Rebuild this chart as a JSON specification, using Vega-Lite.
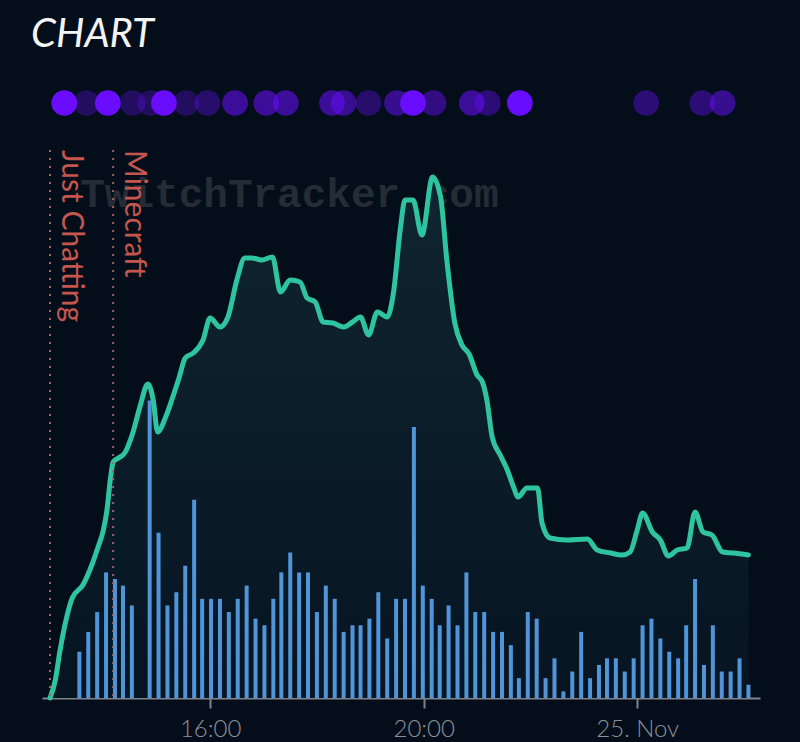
{
  "$schema": "https://vega.github.io/schema/vega-lite/v6.json",
  "width": 718,
  "height": 595,
  "autosize": {"type": "none"},
  "padding": {"left": 42, "top": 103, "right": 40, "bottom": 44},
  "background": "#040e1b",
  "title": {"text": "CHART", "anchor": "start", "frame": "group", "font": "Lato", "fontSize": 40, "fontStyle": "italic", "fontWeight": "normal", "color": "#f4f4f4", "baseline": "alphabetic", "offset": 3, "dx": -11},
  "config": {
    "view": {"stroke": null},
    "font": "Lato",
    "axis": {"grid": false, "title": null}
  },
  "datasets": {
    "viewers": [
      {"time": "2023-11-24T13:00:00Z", "viewers": 0},
      {"time": "2023-11-24T13:06:00Z", "viewers": 36},
      {"time": "2023-11-24T13:11:00Z", "viewers": 92},
      {"time": "2023-11-24T13:18:00Z", "viewers": 156},
      {"time": "2023-11-24T13:25:00Z", "viewers": 200},
      {"time": "2023-11-24T13:37:00Z", "viewers": 226},
      {"time": "2023-11-24T13:47:00Z", "viewers": 266},
      {"time": "2023-11-24T13:54:00Z", "viewers": 302},
      {"time": "2023-11-24T14:00:00Z", "viewers": 336},
      {"time": "2023-11-24T14:04:00Z", "viewers": 376},
      {"time": "2023-11-24T14:08:00Z", "viewers": 440},
      {"time": "2023-11-24T14:11:00Z", "viewers": 472},
      {"time": "2023-11-24T14:17:00Z", "viewers": 480},
      {"time": "2023-11-24T14:24:00Z", "viewers": 490},
      {"time": "2023-11-24T14:33:00Z", "viewers": 530},
      {"time": "2023-11-24T14:41:00Z", "viewers": 582},
      {"time": "2023-11-24T14:50:00Z", "viewers": 628},
      {"time": "2023-11-24T14:56:00Z", "viewers": 596},
      {"time": "2023-11-24T15:01:00Z", "viewers": 532},
      {"time": "2023-11-24T15:10:00Z", "viewers": 562},
      {"time": "2023-11-24T15:18:00Z", "viewers": 602},
      {"time": "2023-11-24T15:25:00Z", "viewers": 640},
      {"time": "2023-11-24T15:32:00Z", "viewers": 680},
      {"time": "2023-11-24T15:41:00Z", "viewers": 690},
      {"time": "2023-11-24T15:52:00Z", "viewers": 716},
      {"time": "2023-11-24T16:00:00Z", "viewers": 760},
      {"time": "2023-11-24T16:11:00Z", "viewers": 742},
      {"time": "2023-11-24T16:20:00Z", "viewers": 762},
      {"time": "2023-11-24T16:30:00Z", "viewers": 836},
      {"time": "2023-11-24T16:39:00Z", "viewers": 880},
      {"time": "2023-11-24T16:47:00Z", "viewers": 880},
      {"time": "2023-11-24T16:58:00Z", "viewers": 876},
      {"time": "2023-11-24T17:10:00Z", "viewers": 882},
      {"time": "2023-11-24T17:19:00Z", "viewers": 812},
      {"time": "2023-11-24T17:30:00Z", "viewers": 836},
      {"time": "2023-11-24T17:41:00Z", "viewers": 832},
      {"time": "2023-11-24T17:49:00Z", "viewers": 800},
      {"time": "2023-11-24T17:58:00Z", "viewers": 792},
      {"time": "2023-11-24T18:07:00Z", "viewers": 752},
      {"time": "2023-11-24T18:18:00Z", "viewers": 750},
      {"time": "2023-11-24T18:30:00Z", "viewers": 742},
      {"time": "2023-11-24T18:40:00Z", "viewers": 752},
      {"time": "2023-11-24T18:49:00Z", "viewers": 762},
      {"time": "2023-11-24T18:58:00Z", "viewers": 726},
      {"time": "2023-11-24T19:08:00Z", "viewers": 772},
      {"time": "2023-11-24T19:19:00Z", "viewers": 762},
      {"time": "2023-11-24T19:26:00Z", "viewers": 810},
      {"time": "2023-11-24T19:34:00Z", "viewers": 942},
      {"time": "2023-11-24T19:39:00Z", "viewers": 996},
      {"time": "2023-11-24T19:48:00Z", "viewers": 996},
      {"time": "2023-11-24T19:58:00Z", "viewers": 926},
      {"time": "2023-11-24T20:10:00Z", "viewers": 1042},
      {"time": "2023-11-24T20:19:00Z", "viewers": 1002},
      {"time": "2023-11-24T20:26:00Z", "viewers": 876},
      {"time": "2023-11-24T20:35:00Z", "viewers": 750},
      {"time": "2023-11-24T20:43:00Z", "viewers": 706},
      {"time": "2023-11-24T20:51:00Z", "viewers": 688},
      {"time": "2023-11-24T21:00:00Z", "viewers": 646},
      {"time": "2023-11-24T21:06:00Z", "viewers": 632},
      {"time": "2023-11-24T21:11:00Z", "viewers": 596},
      {"time": "2023-11-24T21:17:00Z", "viewers": 522},
      {"time": "2023-11-24T21:26:00Z", "viewers": 486},
      {"time": "2023-11-24T21:34:00Z", "viewers": 456},
      {"time": "2023-11-24T21:41:00Z", "viewers": 422},
      {"time": "2023-11-24T21:46:00Z", "viewers": 402},
      {"time": "2023-11-24T21:56:00Z", "viewers": 420},
      {"time": "2023-11-24T22:08:00Z", "viewers": 420},
      {"time": "2023-11-24T22:13:00Z", "viewers": 350},
      {"time": "2023-11-24T22:22:00Z", "viewers": 320},
      {"time": "2023-11-24T22:41:00Z", "viewers": 316},
      {"time": "2023-11-24T23:04:00Z", "viewers": 318},
      {"time": "2023-11-24T23:15:00Z", "viewers": 296},
      {"time": "2023-11-24T23:30:00Z", "viewers": 290},
      {"time": "2023-11-24T23:43:00Z", "viewers": 286},
      {"time": "2023-11-24T23:52:00Z", "viewers": 292},
      {"time": "2023-11-25T00:00:00Z", "viewers": 336},
      {"time": "2023-11-25T00:06:00Z", "viewers": 370},
      {"time": "2023-11-25T00:17:00Z", "viewers": 332},
      {"time": "2023-11-25T00:26:00Z", "viewers": 316},
      {"time": "2023-11-25T00:35:00Z", "viewers": 284},
      {"time": "2023-11-25T00:45:00Z", "viewers": 296},
      {"time": "2023-11-25T00:56:00Z", "viewers": 300},
      {"time": "2023-11-25T01:05:00Z", "viewers": 372},
      {"time": "2023-11-25T01:14:00Z", "viewers": 332},
      {"time": "2023-11-25T01:24:00Z", "viewers": 326},
      {"time": "2023-11-25T01:36:00Z", "viewers": 292},
      {"time": "2023-11-25T01:48:00Z", "viewers": 290},
      {"time": "2023-11-25T02:05:00Z", "viewers": 286}
    ],
    "chat": [
      {"time": "2023-11-24T13:33:00Z", "count": 7},
      {"time": "2023-11-24T13:43:00Z", "count": 10},
      {"time": "2023-11-24T13:53:00Z", "count": 13},
      {"time": "2023-11-24T14:03:00Z", "count": 19},
      {"time": "2023-11-24T14:13:00Z", "count": 18},
      {"time": "2023-11-24T14:22:00Z", "count": 17},
      {"time": "2023-11-24T14:32:00Z", "count": 14},
      {"time": "2023-11-24T14:52:00Z", "count": 45},
      {"time": "2023-11-24T15:02:00Z", "count": 25},
      {"time": "2023-11-24T15:12:00Z", "count": 14},
      {"time": "2023-11-24T15:22:00Z", "count": 16},
      {"time": "2023-11-24T15:32:00Z", "count": 20},
      {"time": "2023-11-24T15:42:00Z", "count": 30},
      {"time": "2023-11-24T15:51:00Z", "count": 15},
      {"time": "2023-11-24T16:01:00Z", "count": 15},
      {"time": "2023-11-24T16:11:00Z", "count": 15},
      {"time": "2023-11-24T16:21:00Z", "count": 13},
      {"time": "2023-11-24T16:31:00Z", "count": 15},
      {"time": "2023-11-24T16:41:00Z", "count": 17},
      {"time": "2023-11-24T16:51:00Z", "count": 12},
      {"time": "2023-11-24T17:01:00Z", "count": 11},
      {"time": "2023-11-24T17:11:00Z", "count": 15},
      {"time": "2023-11-24T17:20:00Z", "count": 19},
      {"time": "2023-11-24T17:30:00Z", "count": 22},
      {"time": "2023-11-24T17:40:00Z", "count": 19},
      {"time": "2023-11-24T17:50:00Z", "count": 19},
      {"time": "2023-11-24T18:00:00Z", "count": 13},
      {"time": "2023-11-24T18:10:00Z", "count": 17},
      {"time": "2023-11-24T18:20:00Z", "count": 15},
      {"time": "2023-11-24T18:30:00Z", "count": 10},
      {"time": "2023-11-24T18:40:00Z", "count": 11},
      {"time": "2023-11-24T18:49:00Z", "count": 11},
      {"time": "2023-11-24T18:59:00Z", "count": 12},
      {"time": "2023-11-24T19:09:00Z", "count": 16},
      {"time": "2023-11-24T19:19:00Z", "count": 9},
      {"time": "2023-11-24T19:29:00Z", "count": 15},
      {"time": "2023-11-24T19:39:00Z", "count": 15},
      {"time": "2023-11-24T19:49:00Z", "count": 41},
      {"time": "2023-11-24T19:59:00Z", "count": 17},
      {"time": "2023-11-24T20:09:00Z", "count": 15},
      {"time": "2023-11-24T20:18:00Z", "count": 11},
      {"time": "2023-11-24T20:28:00Z", "count": 14},
      {"time": "2023-11-24T20:38:00Z", "count": 11},
      {"time": "2023-11-24T20:48:00Z", "count": 19},
      {"time": "2023-11-24T20:58:00Z", "count": 13},
      {"time": "2023-11-24T21:08:00Z", "count": 13},
      {"time": "2023-11-24T21:18:00Z", "count": 10},
      {"time": "2023-11-24T21:28:00Z", "count": 10},
      {"time": "2023-11-24T21:38:00Z", "count": 8},
      {"time": "2023-11-24T21:47:00Z", "count": 3},
      {"time": "2023-11-24T21:57:00Z", "count": 13},
      {"time": "2023-11-24T22:07:00Z", "count": 12},
      {"time": "2023-11-24T22:17:00Z", "count": 3},
      {"time": "2023-11-24T22:27:00Z", "count": 6},
      {"time": "2023-11-24T22:37:00Z", "count": 1},
      {"time": "2023-11-24T22:47:00Z", "count": 4},
      {"time": "2023-11-24T22:57:00Z", "count": 10},
      {"time": "2023-11-24T23:07:00Z", "count": 3},
      {"time": "2023-11-24T23:17:00Z", "count": 5},
      {"time": "2023-11-24T23:26:00Z", "count": 6},
      {"time": "2023-11-24T23:36:00Z", "count": 6},
      {"time": "2023-11-24T23:46:00Z", "count": 4},
      {"time": "2023-11-24T23:56:00Z", "count": 6},
      {"time": "2023-11-25T00:06:00Z", "count": 11},
      {"time": "2023-11-25T00:16:00Z", "count": 12},
      {"time": "2023-11-25T00:26:00Z", "count": 9},
      {"time": "2023-11-25T00:36:00Z", "count": 7},
      {"time": "2023-11-25T00:46:00Z", "count": 6},
      {"time": "2023-11-25T00:55:00Z", "count": 11},
      {"time": "2023-11-25T01:05:00Z", "count": 18},
      {"time": "2023-11-25T01:15:00Z", "count": 5},
      {"time": "2023-11-25T01:25:00Z", "count": 11},
      {"time": "2023-11-25T01:35:00Z", "count": 4},
      {"time": "2023-11-25T01:45:00Z", "count": 4},
      {"time": "2023-11-25T01:55:00Z", "count": 6},
      {"time": "2023-11-25T02:05:00Z", "count": 2}
    ],
    "events": [
      {"time": "2023-11-24T13:16:00Z", "lane": 1, "level": 1.0},
      {"time": "2023-11-24T13:41:00Z", "lane": 1, "level": 0.3},
      {"time": "2023-11-24T14:05:00Z", "lane": 1, "level": 1.0},
      {"time": "2023-11-24T14:33:00Z", "lane": 1, "level": 0.3},
      {"time": "2023-11-24T14:53:00Z", "lane": 1, "level": 0.3},
      {"time": "2023-11-24T15:08:00Z", "lane": 1, "level": 1.0},
      {"time": "2023-11-24T15:33:00Z", "lane": 1, "level": 0.3},
      {"time": "2023-11-24T15:57:00Z", "lane": 1, "level": 0.35},
      {"time": "2023-11-24T16:28:00Z", "lane": 1, "level": 0.55},
      {"time": "2023-11-24T17:03:00Z", "lane": 1, "level": 0.55},
      {"time": "2023-11-24T17:25:00Z", "lane": 1, "level": 0.55},
      {"time": "2023-11-24T18:17:00Z", "lane": 1, "level": 0.55},
      {"time": "2023-11-24T18:30:00Z", "lane": 1, "level": 0.5},
      {"time": "2023-11-24T18:58:00Z", "lane": 1, "level": 0.35},
      {"time": "2023-11-24T19:30:00Z", "lane": 1, "level": 0.5},
      {"time": "2023-11-24T19:48:00Z", "lane": 1, "level": 1.0},
      {"time": "2023-11-24T20:11:00Z", "lane": 1, "level": 0.45},
      {"time": "2023-11-24T20:54:00Z", "lane": 1, "level": 0.55},
      {"time": "2023-11-24T21:12:00Z", "lane": 1, "level": 0.4},
      {"time": "2023-11-24T21:48:00Z", "lane": 1, "level": 1.0},
      {"time": "2023-11-25T00:10:00Z", "lane": 1, "level": 0.4},
      {"time": "2023-11-25T01:13:00Z", "lane": 1, "level": 0.4},
      {"time": "2023-11-25T01:36:00Z", "lane": 1, "level": 0.5}
    ],
    "games": [
      {"time": "2023-11-24T13:00:00Z", "game": "Just Chatting"},
      {"time": "2023-11-24T14:11:00Z", "game": "Minecraft"}
    ],
    "watermark": [
      {"time": "2023-11-24T13:34:00Z", "viewers": 982, "label": "TwitchTracker.com"}
    ]
  },
  "encoding": {
    "x": {
      "field": "time",
      "type": "temporal",
      "scale": {
        "type": "utc",
        "nice": false,
        "padding": 0,
        "domain": [
          {"year": 2023, "month": 11, "date": 24, "hours": 12, "minutes": 51, "utc": true},
          {"year": 2023, "month": 11, "date": 25, "hours": 2, "minutes": 18, "utc": true}
        ]
      },
      "axis": {
        "values": [
          {"year": 2023, "month": 11, "date": 24, "hours": 16, "utc": true},
          {"year": 2023, "month": 11, "date": 24, "hours": 20, "utc": true},
          {"year": 2023, "month": 11, "date": 25, "hours": 0, "utc": true}
        ],
        "labelExpr": "utcFormat(datum.value, '%H:%M') == '00:00' ? utcFormat(datum.value, '%d. %b') : utcFormat(datum.value, '%H:%M')",
        "domainColor": "#7d838d",
        "domainWidth": 2,
        "tickColor": "#7d838d",
        "tickWidth": 2,
        "tickSize": 10,
        "labelColor": "#8b9098",
        "labelFont": "Lato",
        "labelFontSize": 24,
        "labelFontWeight": 300,
        "labelPadding": 9,
        "labelFlush": false,
        "labelOverlap": false
      }
    }
  },
  "layer": [
    {
      "data": {"name": "watermark"},
      "mark": {"type": "text", "font": "Liberation Mono", "fontWeight": "bold", "fontSize": 41, "color": "#252c35", "align": "left", "baseline": "alphabetic"},
      "encoding": {
        "y": {"field": "viewers", "type": "quantitative", "scale": {"domain": [0, 1190]}, "axis": null},
        "text": {"field": "label"}
      }
    },
    {
      "data": {"name": "viewers"},
      "mark": {
        "type": "area",
        "interpolate": "monotone",
        "color": {"gradient": "linear", "x1": 0, "y1": 0, "x2": 0, "y2": 1, "stops": [{"offset": 0, "color": "#0f2530"}, {"offset": 1, "color": "#071422"}]}
      },
      "encoding": {
        "y": {"field": "viewers", "type": "quantitative", "scale": {"domain": [0, 1190]}, "axis": null}
      }
    },
    {
      "data": {"name": "chat"},
      "mark": {"type": "bar", "size": 4, "color": "#4f95d8"},
      "encoding": {
        "y": {"field": "count", "type": "quantitative", "scale": {"domain": [0, 90]}, "axis": null}
      }
    },
    {
      "data": {"name": "viewers"},
      "mark": {"type": "line", "interpolate": "monotone", "color": "#2fc4a0", "strokeWidth": 5, "strokeCap": "round", "strokeJoin": "round"},
      "encoding": {
        "y": {"field": "viewers", "type": "quantitative", "scale": {"domain": [0, 1190]}, "axis": null}
      }
    },
    {
      "data": {"name": "games"},
      "mark": {"type": "rule", "color": "#a0666a", "strokeWidth": 2, "strokeDash": [2, 6]},
      "encoding": {
        "y": {"datum": 1096, "type": "quantitative", "scale": {"domain": [0, 1190]}, "axis": null},
        "y2": {"datum": 0}
      }
    },
    {
      "data": {"name": "games"},
      "mark": {"type": "text", "angle": 90, "align": "left", "baseline": "alphabetic", "dy": -12, "font": "Lato", "fontSize": 30, "color": "#c4564d"},
      "encoding": {
        "y": {"datum": 1096, "type": "quantitative", "scale": {"domain": [0, 1190]}, "axis": null},
        "text": {"field": "game"}
      }
    },
    {
      "data": {"name": "events"},
      "mark": {"type": "point", "shape": "circle", "filled": true, "size": 660, "color": "#6a0dff", "strokeWidth": 0},
      "encoding": {
        "y": {"field": "lane", "type": "quantitative", "scale": {"domain": [0, 1]}, "axis": null},
        "opacity": {"field": "level", "type": "quantitative", "scale": {"domain": [0, 1], "range": [0, 1]}, "legend": null}
      }
    }
  ],
  "resolve": {"scale": {"y": "independent"}}
}
